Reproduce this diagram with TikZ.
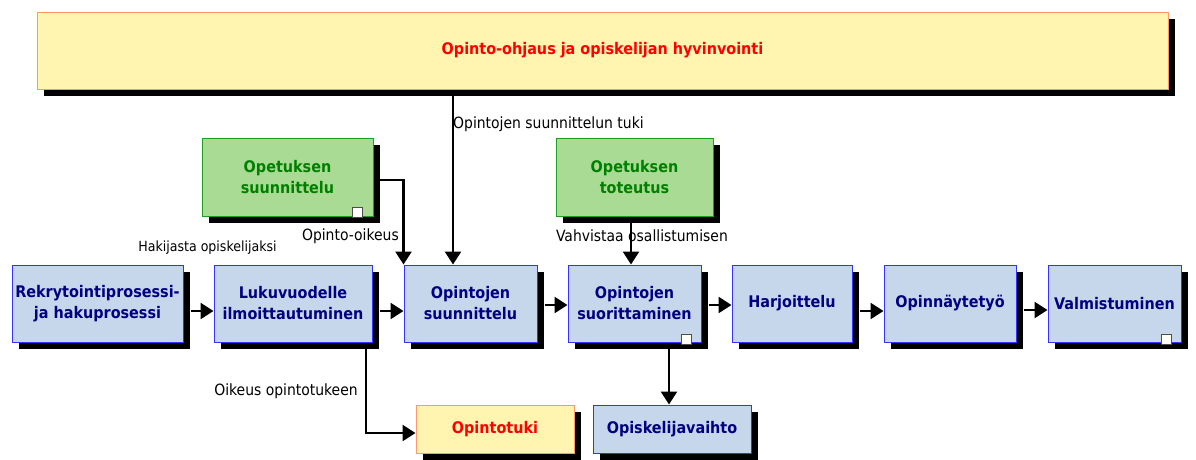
\documentclass[tikz,border=0pt]{standalone}
\usepackage{fontspec}
\setmainfont{DejaVu Sans Condensed}
\usetikzlibrary{shadows,arrows.meta,calc}
\definecolor{bfill}{HTML}{C6D7EC}
\definecolor{bdraw}{HTML}{3333FF}
\definecolor{btext}{HTML}{000080}
\definecolor{gfill}{HTML}{A9DB94}
\definecolor{gdraw}{HTML}{1E9E1E}
\definecolor{gtext}{HTML}{008000}
\definecolor{yfill}{HTML}{FFF5B0}
\definecolor{ydraw}{HTML}{FF9966}
\definecolor{ytext}{HTML}{FF0000}
\tikzset{
  box/.style={rectangle, line width=1pt, inner sep=2pt, align=center,
    font=\fontsize{16}{21}\selectfont\bfseries,
    general shadow={fill=black, shadow xshift=7pt, shadow yshift=-7pt}},
  bluebox/.style={box, fill=bfill, draw=bdraw, text=btext},
  greenbox/.style={box, fill=gfill, draw=gdraw, text=gtext},
  yelbox/.style={box, fill=yfill, draw=ydraw, text=ytext},
  lbl/.style={font=\fontsize{15.5}{17}\selectfont, inner sep=0pt, text=black},
  arr/.style={line width=2.6pt, -{Triangle[width=16pt,length=13pt]}},
  icon/.style={fill=white, draw=black!70, line width=0.8pt, minimum size=10pt, inner sep=0pt}
}
\begin{document}
\begin{tikzpicture}[x=1pt,y=-1pt]
\useasboundingbox (0,0) rectangle (1196,459);
% boxes
\node[yelbox, minimum width=1131pt, minimum height=77pt] (top) at (602.5,50.5) {Opinto-ohjaus ja opiskelijan hyvinvointi};
\node[greenbox, minimum width=171pt, minimum height=78pt] (g1) at (287.5,177) {Opetuksen\\suunnittelu};
\node[greenbox, minimum width=157pt, minimum height=78pt] (g2) at (634.5,177) {Opetuksen\\toteutus};
\node[bluebox, minimum width=171pt, minimum height=77pt] (rek) at (97.5,303.5) {Rekrytointiprosessi-\\ja hakuprosessi};
\node[bluebox, minimum width=158pt, minimum height=77pt] (luk) at (293,303.5) {Lukuvuodelle\\ilmoittautuminen};
\node[bluebox, minimum width=133pt, minimum height=77pt] (osu) at (470.5,303.5) {Opintojen\\suunnittelu};
\node[bluebox, minimum width=133pt, minimum height=77pt] (osr) at (634.5,303.5) {Opintojen\\suorittaminen};
\node[bluebox, minimum width=120pt, minimum height=77pt] (har) at (792,303.5) {Harjoittelu};
\node[bluebox, minimum width=132pt, minimum height=77pt] (opn) at (950,303.5) {Opinnäytetyö};
\node[bluebox, minimum width=133pt, minimum height=77pt] (val) at (1114.5,303.5) {Valmistuminen};
\node[yelbox, minimum width=158pt, minimum height=48pt] (otuki) at (495,429) {Opintotuki};
\node[bluebox, minimum width=158pt, minimum height=48pt] (vaihto) at (672,429) {Opiskelijavaihto};
% icons
\node[icon] (i1) at (357.5,212.5) {};
\node[icon] (i2) at (686,339) {};
\node[icon] (i3) at (1166,339.5) {};
% connectors in main row
\draw[arr] ([shift={(7,7.5)}]rek.east) -- ([yshift=-7.5pt]luk.west);
\draw[arr] ([shift={(7,7.5)}]luk.east) -- ([yshift=-7.5pt]osu.west);
\draw[arr] ([shift={(7,1.5)}]osu.east) -- ([yshift=-1.5pt]osr.west);
\draw[arr] ([shift={(7,1.5)}]osr.east) -- ([yshift=-1.5pt]har.west);
\draw[arr] ([shift={(7,7.5)}]har.east) -- ([yshift=-7.5pt]opn.west);
\draw[arr] ([shift={(7,6.5)}]opn.east) -- ([yshift=-6.5pt]val.west);
% vertical connectors
\coordinate (t1) at (453,0);
\coordinate (t2) at (669,0);
\coordinate (t3) at (631,0);
\coordinate (t4) at (366,0);
\draw[arr] (top.south -| t1) -- (osu.north -| t1);
\draw[arr] ([yshift=-3pt]g1.east) -| (osu.north west);
\draw[arr] (g2.south -| t3) -- (osr.north -| t3);
\draw[arr] (luk.south -| t4) |- ([yshift=-4pt]otuki.west);
\draw[arr] (osr.south -| t2) -- (vaihto.north -| t2);
% labels
\node[lbl, anchor=west] (l1) at (453,124) {Opintojen suunnittelun tuki};
\node[lbl, font=\fontsize{14}{16}\selectfont] (l2) at (207.5,248) {Hakijasta opiskelijaksi};
\node[lbl, anchor=east] (l3) at (399,236) {Opinto-oikeus};
\node[lbl] (l4) at (642,236) {Vahvistaa osallistumisen};
\node[lbl] (l5) at (286,391) {Oikeus opintotukeen};
\end{tikzpicture}
\end{document}
